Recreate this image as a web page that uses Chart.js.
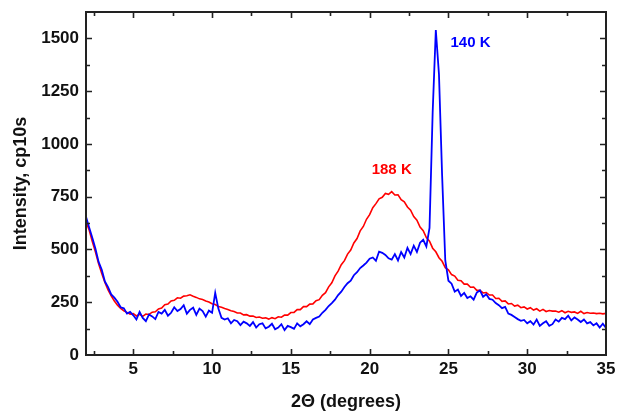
<!DOCTYPE html>
<html>
<head>
<meta charset="utf-8">
<title>XRD intensity</title>
<script src="https://cdn.jsdelivr.net/npm/chart.js@4/dist/chart.umd.min.js"></script>
<style>
  html, body { margin: 0; padding: 0; background: #fff; }
  #wrap { width: 618px; height: 414px; }
</style>
</head>
<body>
<div id="wrap"><canvas id="xrd" width="618" height="414"></canvas></div>
<script>
'use strict';

/* Data: 2-theta grid (degrees), 0.2 step from 2 to 35 */
const angles = Array.from({ length: 166 }, (_, i) => Math.round((2 + i * 0.2) * 10) / 10);

const intensity188K = [
  632, 592, 538, 488, 432, 386, 344, 308, 280, 256,
  236, 221, 209, 202, 194, 196, 185, 193, 183, 194,
  192, 203, 205, 218, 222, 238, 241, 256, 259, 271,
  269, 279, 281, 285, 278, 273, 266, 263, 256, 251,
  243, 239, 230, 226, 220, 216, 210, 206, 199, 199,
  190, 191, 184, 185, 178, 180, 174, 176, 170, 177,
  172, 181, 179, 189, 189, 201, 202, 215, 215, 229,
  229, 241, 242, 257, 262, 283, 295, 323, 342, 375,
  397, 428, 447, 478, 497, 531, 552, 588, 609, 643,
  665, 698, 717, 740, 747, 765, 761, 774, 758, 759,
  736, 726, 701, 686, 656, 639, 606, 589, 556, 539,
  506, 489, 461, 444, 414, 404, 381, 374, 354, 352,
  336, 336, 321, 322, 306, 307, 294, 296, 284, 284,
  268, 269, 254, 256, 242, 244, 232, 236, 224, 228,
  218, 224, 213, 219, 208, 216, 206, 211, 208, 208,
  203, 210, 200, 207, 202, 204, 197, 207, 196, 201,
  198, 199, 196, 198, 195, 197
];

const intensity140K = [
  655, 604, 556, 503, 441, 404, 348, 322, 287, 272,
  252, 226, 221, 196, 204, 188, 168, 204, 176, 160,
  192, 183, 170, 204, 196, 214, 186, 200, 226, 208,
  218, 236, 196, 214, 224, 190, 220, 208, 182, 210,
  200, 294, 220, 176, 168, 174, 150, 166, 160, 142,
  158, 150, 138, 156, 130, 146, 150, 126, 134, 148,
  122, 130, 146, 118, 138, 132, 124, 150, 136, 146,
  160, 146, 168, 176, 182, 200, 214, 232, 246, 262,
  284, 300, 322, 340, 352, 378, 392, 412, 424, 438,
  456, 462, 446, 490, 484, 474, 458, 452, 478, 448,
  488, 462, 508, 478, 518, 488, 532, 546, 514, 602,
  1150, 1540, 1330, 850, 448, 352, 338, 300, 310, 280,
  294, 270, 278, 262, 296, 306, 276, 288, 266, 262,
  246, 236, 222, 228, 196, 190, 180, 170, 162, 166,
  150, 160, 144, 168, 138, 150, 160, 138, 146, 168,
  158, 176, 170, 186, 164, 178, 168, 156, 168, 150,
  156, 140, 150, 130, 148, 128
];

const xTicks = [5, 10, 15, 20, 25, 30, 35];
const yTicks = [0, 250, 500, 750, 1000, 1250, 1500];

// curve labels: [text, 2-theta, intensity, colour]
const curveLabels = [
  ['140 K', 26.4, 1481, '#0000ff'],
  ['188 K', 21.4, 877, '#ff0000']
];

const FONT = '"Liberation Sans", Arial, Helvetica, sans-serif';

function toPoints(values) {
  return angles.map((a, i) => ({ x: a, y: values[i] }));
}

/* Frame with inward ticks on all four sides, plus the curve labels */
const framePlugin = {
  id: 'frame',
  afterDatasetsDraw(chart) {
    const { ctx, chartArea: area, scales } = chart;
    const xs = scales.x, ys = scales.y;
    ctx.save();
    ctx.strokeStyle = '#222';
    ctx.lineWidth = 1.6;

    const major = 6, minor = 4;
    ctx.beginPath();
    for (let v = 2.5; v < 35; v += 2.5) {
      const px = Math.round(xs.getPixelForValue(v)) + 0.5;
      const len = v % 5 === 0 ? major : minor;
      ctx.moveTo(px, area.bottom); ctx.lineTo(px, area.bottom - len);
      ctx.moveTo(px, area.top); ctx.lineTo(px, area.top + len);
    }
    for (let v = 125; v < 1625; v += 125) {
      const py = Math.round(ys.getPixelForValue(v)) + 0.5;
      const len = v % 250 === 0 ? major : minor;
      ctx.moveTo(area.left, py); ctx.lineTo(area.left + len, py);
      ctx.moveTo(area.right, py); ctx.lineTo(area.right - len, py);
    }
    ctx.stroke();

    ctx.lineWidth = 2;
    ctx.strokeRect(area.left, area.top, area.right - area.left, area.bottom - area.top);

    ctx.font = 'bold 15px ' + FONT;
    ctx.textAlign = 'center';
    ctx.textBaseline = 'middle';
    for (const [text, x, y, color] of curveLabels) {
      ctx.fillStyle = color;
      ctx.fillText(text, xs.getPixelForValue(x), ys.getPixelForValue(y));
    }
    ctx.restore();
  }
};

const ctx = document.getElementById('xrd').getContext('2d');

const chart = new Chart(ctx, {
  type: 'line',
  data: {
    datasets: [
      {
        label: '140 K',
        data: toPoints(intensity140K),
        borderColor: '#0000ff',
        borderWidth: 1.8,
        pointRadius: 0,
        tension: 0
      },
      {
        label: '188 K',
        data: toPoints(intensity188K),
        borderColor: '#ff0000',
        borderWidth: 1.6,
        pointRadius: 0,
        tension: 0
      }
    ]
  },
  options: {
    responsive: false,
    animation: false,
    devicePixelRatio: 1,
    layout: { padding: { top: 12, right: 12, left: 0, bottom: 0 } },
    plugins: {
      legend: { display: false },
      tooltip: { enabled: false }
    },
    scales: {
      x: {
        type: 'linear',
        min: 2,
        max: 35,
        afterBuildTicks: s => { s.ticks = xTicks.map(v => ({ value: v })); },
        afterFit: s => { s.height = 59; s.paddingLeft = 0; s.paddingRight = 0; },
        grid: { display: false, drawTicks: false },
        border: { display: false },
        ticks: {
          padding: 4,
          color: '#111',
          font: { family: FONT, size: 17, weight: 'bold' },
          maxRotation: 0,
          callback: v => String(v)
        },
        title: {
          display: true,
          text: '2\u0398 (degrees)',
          color: '#111',
          padding: { top: 8, bottom: 1 },
          font: { family: FONT, size: 18, weight: 'bold' }
        }
      },
      y: {
        min: 0,
        max: 1625,
        afterBuildTicks: s => { s.ticks = yTicks.map(v => ({ value: v })); },
        afterFit: s => { s.width = 86; s.paddingTop = 0; s.paddingBottom = 0; },
        grid: { display: false, drawTicks: false },
        border: { display: false },
        ticks: {
          padding: 7,
          color: '#111',
          font: { family: FONT, size: 17, weight: 'bold' },
          callback: v => String(v)
        },
        title: {
          display: true,
          text: 'Intensity, cp10s',
          color: '#111',
          padding: { top: 10, bottom: 0 },
          font: { family: FONT, size: 18, weight: 'bold' }
        }
      }
    }
  },
  plugins: [framePlugin]
});
</script>
</body>
</html>
